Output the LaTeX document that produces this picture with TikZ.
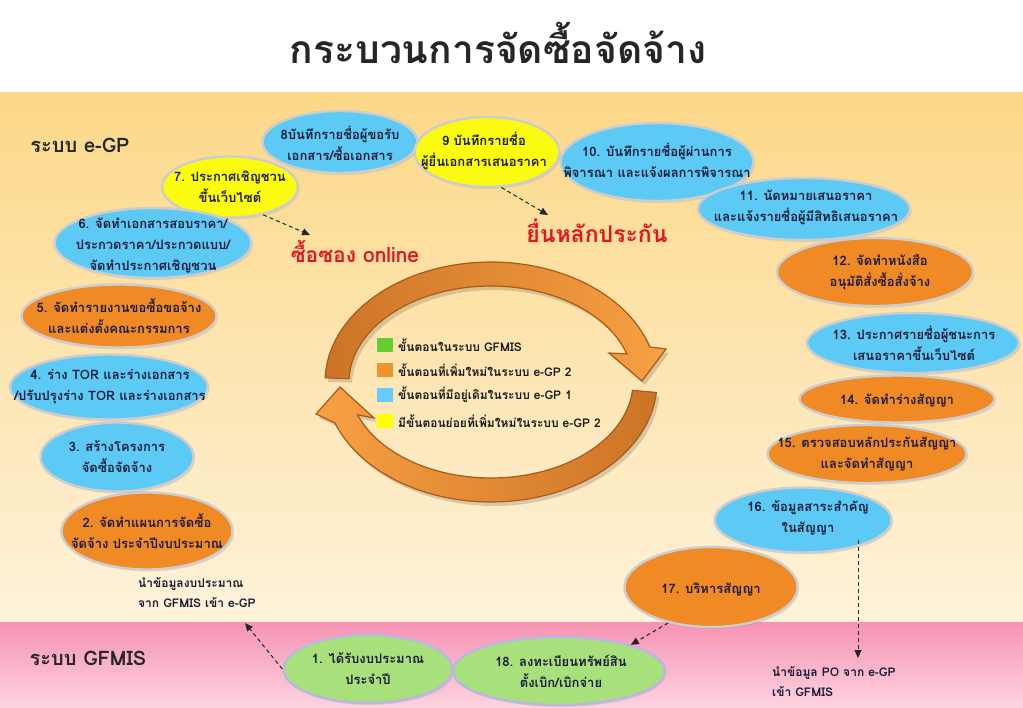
\documentclass[tikz,border=0pt]{standalone}
\usepackage{fontspec}
\newfontfamily\thai[Script=Thai]{Loma}
\usetikzlibrary{shapes.geometric,arrows.meta,shadows}
\definecolor{cblue}{HTML}{5CCAF5}
\definecolor{corange}{HTML}{EF8A25}
\definecolor{cyellow}{HTML}{FBFB12}
\definecolor{cgreen}{HTML}{A8E07C}
\definecolor{eborder}{HTML}{CDCDCD}
\definecolor{gborder}{HTML}{B8B8E2}
\definecolor{ctext}{HTML}{1C1C38}
\definecolor{cred}{HTML}{E6141E}
\definecolor{ringdark}{HTML}{CC7426}
\definecolor{ringlight}{HTML}{F7A043}
\definecolor{ringedge}{HTML}{A85A18}
\definecolor{lgreen}{HTML}{66CC33}
\definecolor{lorange}{HTML}{F29130}
\definecolor{lblue}{HTML}{66CCFF}
\definecolor{lyellow}{HTML}{FFFF00}
\newcommand\ringTop{plot[domain=182:343, samples=60] ({491+166*cos(\x)},{382+120*sin(\x)}) -- (666,349) -- (642,381) -- (609,353) -- plot[domain=343:182, samples=60] ({491+142*cos(\x)},{382+96*sin(\x)}) -- cycle}
\newcommand\ringBot{plot[domain=5:160, samples=60] ({491+166*cos(\x)},{382+120*sin(\x)}) -- (316,414) -- (340,387) -- (374,418) -- plot[domain=160:5, samples=60] ({491+142*cos(\x)},{382+96*sin(\x)}) -- cycle}
\tikzset{
  base/.style={ellipse, draw=eborder, line width=2.4pt, inner sep=0pt,
    drop shadow={opacity=0.18, shadow xshift=1.5pt, shadow yshift=-2pt}},
  blueE/.style={base, fill=cblue},
  orangeE/.style={base, fill=corange},
  yellowE/.style={base, fill=cyellow},
  greenE/.style={base, fill=cgreen, draw=gborder},
  etext/.style={font=\thai\bfseries\fontsize{13}{21}\selectfont, text=ctext, align=center, inner sep=0pt},
  small/.style={font=\thai\bfseries\fontsize{12}{20}\selectfont, text=ctext!90!black, align=left, inner sep=0pt, anchor=west},
  system/.style={font=\thai\bfseries\fontsize{20}{24}\selectfont, text=black!85, inner sep=0pt},
  redtext/.style={font=\thai\bfseries, text=cred, inner sep=0pt},
  legsq/.style={minimum width=16pt, minimum height=14pt, inner sep=0pt},
  legtext/.style={font=\thai\bfseries\fontsize{12}{15}\selectfont, text=black!90, inner sep=0pt, anchor=west},
  dasharrow/.style={draw=black!85, line width=1pt, dash pattern=on 4pt off 3pt, -{Triangle[length=8pt,width=7pt]}}
}
\begin{document}
\begin{tikzpicture}[x=1pt,y=-1pt]
\useasboundingbox (0,0) rectangle (1023,708);
% background
\fill[white] (0,0) rectangle (1023,93);
\shade[top color={rgb,255:red,252;green,216;blue,136}, middle color={rgb,255:red,253;green,234;blue,190}, bottom color={rgb,255:red,254;green,242;blue,218}] (0,93) rectangle (1023,622);
\shade[top color={rgb,255:red,246;green,147;blue,178}, bottom color={rgb,255:red,253;green,211;blue,224}] (0,622) rectangle (1023,708);
% title
\node[font=\thai\bfseries\fontsize{39}{44}\selectfont, text=black!85, inner sep=0pt] (title) at (498,43) {กระบวนการจัดซื้อจัดจ้าง};
\node[system] (egp) at (80,145) {ระบบ e-GP};
\node[system] (gfmis) at (88,658) {ระบบ GFMIS};
% ring arrows
\begin{scope}[shift={(3,4)}]
  \fill[black, opacity=0.15] \ringTop;
  \fill[black, opacity=0.15] \ringBot;
\end{scope}
\shadedraw[left color=ringdark, right color=ringlight, draw=ringedge, line width=1.2pt] \ringTop;
\shadedraw[left color=ringlight, right color=ringdark, draw=ringedge, line width=1.2pt] \ringBot;
% legend
\node[legsq, fill=lgreen] (L1) at (385,345) {};
\node[legsq, fill=lorange] (L2) at (385,370) {};
\node[legsq, fill=lblue] (L3) at (385,395) {};
\node[legsq, fill=lyellow] (L4) at (385,421) {};
\node[legtext] (T1) at (398,345) {ขั้นตอนในระบบ GFMIS};
\node[legtext] (T2) at (398,370) {ขั้นตอนที่เพิ่มใหม่ในระบบ e-GP 2};
\node[legtext] (T3) at (398,395) {ขั้นตอนที่มีอยู่เดิมในระบบ e-GP 1};
\node[legtext] (T4) at (398,421) {มีขั้นตอนย่อยที่เพิ่มใหม่ในระบบ e-GP 2};
% ellipses
\node[greenE, minimum width=169pt, minimum height=68pt] (n1) at (368,669) {};
\node[orangeE, minimum width=171pt, minimum height=77pt] (n2) at (147,531) {};
\node[blueE, minimum width=153pt, minimum height=69pt] (n3) at (117,457) {};
\node[blueE, minimum width=198pt, minimum height=65pt] (n4) at (109,387) {};
\node[orangeE, minimum width=195pt, minimum height=63pt] (n5) at (119,316) {};
\node[yellowE, minimum width=136pt, minimum height=61pt] (n7) at (230,187) {};
\node[blueE, minimum width=197pt, minimum height=70pt] (n6) at (153,243) {};
\node[blueE, minimum width=155pt, minimum height=62pt] (n8) at (340,142) {};
\node[yellowE, minimum width=145pt, minimum height=70pt] (n9) at (487,152) {};
\node[blueE, minimum width=193pt, minimum height=78pt] (n10) at (657,162) {};
\node[blueE, minimum width=212pt, minimum height=62pt] (n11) at (804,209) {};
\node[orangeE, minimum width=196pt, minimum height=68pt] (n12) at (875,272) {};
\node[blueE, minimum width=212pt, minimum height=60pt] (n13) at (913,343) {};
\node[orangeE, minimum width=195pt, minimum height=47pt] (n14) at (897,399) {};
\node[orangeE, minimum width=199pt, minimum height=58pt] (n15) at (867,454) {};
\node[blueE, minimum width=177pt, minimum height=65pt] (n16) at (803,520) {};
\node[orangeE, minimum width=173pt, minimum height=80pt] (n17) at (711,587) {};
\node[greenE, minimum width=212pt, minimum height=68pt] (n18) at (559,671) {};
% ellipse texts
\node[etext] (t1) at (368,669) {1. ได้รับงบประมาณ\\ประจำปี};
\node[etext] (t2) at (147,531) {2. จัดทำแผนการจัดซื้อ\\จัดจ้าง ประจำปีงบประมาณ};
\node[etext] (t3) at (117,457) {3. สร้างโครงการ\\จัดซื้อจัดจ้าง};
\node[etext] (t4) at (110,387) {4. ร่าง TOR และร่างเอกสาร\\/ปรับปรุงร่าง TOR และร่างเอกสาร};
\node[etext] (t5) at (119,316) {5. จัดทำรายงานขอซื้อขอจ้าง\\และแต่งตั้งคณะกรรมการ};
\node[etext] (t6) at (153,246) {6. จัดทำเอกสารสอบราคา/\\ประกวดราคา/ประกวดแบบ/\\จัดทำประกาศเชิญชวน};
\node[etext] (t7) at (230,187) {7. ประกาศเชิญชวน\\ขึ้นเว็บไซต์};
\node[etext] (t8) at (340,143) {8บันทึกรายชื่อผู้ขอรับ\\เอกสาร/ซื้อเอกสาร};
\node[etext] (t9) at (484,151) {9 บันทึกรายชื่อ\\ผู้ยื่นเอกสารเสนอราคา};
\node[etext] (t10) at (657,160) {10. บันทึกรายชื่อผู้ผ่านการ\\พิจารณา และแจ้งผลการพิจารณา};
\node[etext] (t11) at (806,207) {11. นัดหมายเสนอราคา\\และแจ้งรายชื่อผู้มีสิทธิเสนอราคา};
\node[etext] (t12) at (880,272) {12. จัดทำหนังสือ\\อนุมัติสั่งซื้อสั่งจ้าง};
\node[etext] (t13) at (914,343) {13. ประกาศรายชื่อผู้ชนะการ\\เสนอราคาขึ้นเว็บไซต์};
\node[etext] (t14) at (897,401) {14. จัดทำร่างสัญญา};
\node[etext] (t15) at (867,454) {15. ตรวจสอบหลักประกันสัญญา\\และจัดทำสัญญา};
\node[etext] (t16) at (808,518) {16. ข้อมูลสาระสำคัญ\\ในสัญญา};
\node[etext] (t17) at (711,589) {17. บริหารสัญญา};
\node[etext] (t18) at (561,671) {18. ลงทะเบียนทรัพย์สิน\\ตั้งเบิก/เบิกจ่าย};
% red texts
\node[redtext, font=\thai\bfseries\fontsize{21}{24}\selectfont] (online) at (355,251) {ซื้อซอง online};
\node[redtext, font=\thai\bfseries\fontsize{23}{26}\selectfont] (yuen) at (597,231) {ยื่นหลักประกัน};
% small texts
\node[small] (budget) at (138,593) {นำข้อมูลงบประมาณ\\จาก GFMIS เข้า e-GP};
\node[small] (po) at (772,682) {นำข้อมูล PO จาก e-GP\\เข้า GFMIS};
% dashed arrows
\coordinate (a7) at (310,235);
\coordinate (a9) at (548,215);
\coordinate (a1) at (245,623);
\coordinate (s16) at (858,540);
\coordinate (a16) at (858,658);
\draw[dasharrow] (n7.-40) -- (a7);
\draw[dasharrow] (n9.-68) -- (a9);
\draw[dasharrow] (n1.west) -- (a1);
\draw[dasharrow] (s16) -- (a16);
\draw[dasharrow] (n17.-140) -- (n18.20);
\end{tikzpicture}
\end{document}
